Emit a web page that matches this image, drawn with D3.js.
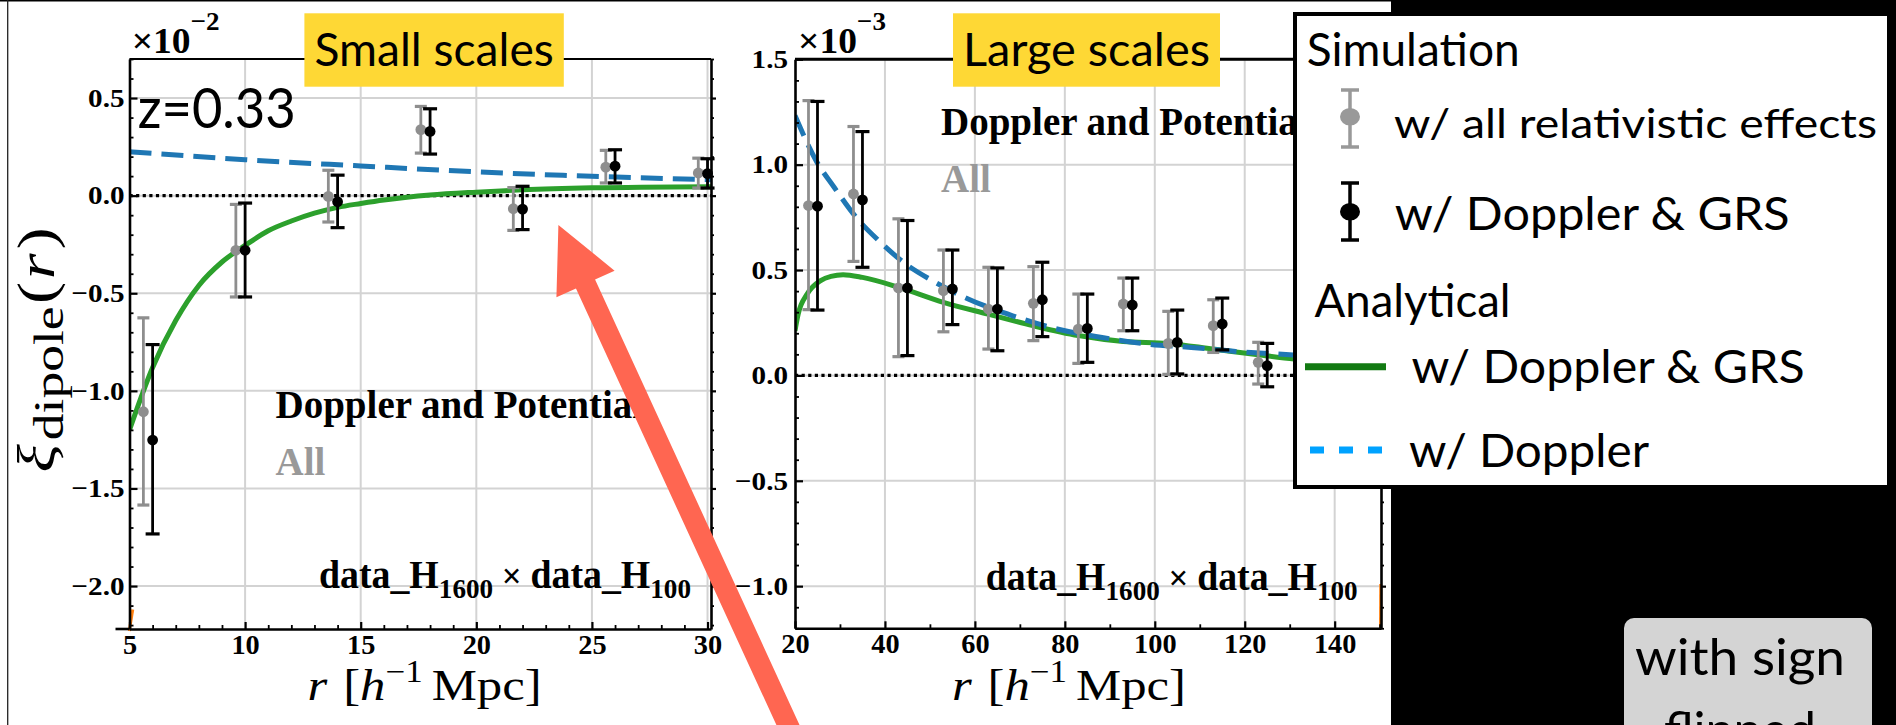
<!DOCTYPE html>
<html>
<head>
<meta charset="utf-8">
<script src="https://cdn.jsdelivr.net/npm/d3@7"></script>
<style>
  html, body { margin: 0; padding: 0; background: #000; overflow: hidden; }
  svg { display: block; }
</style>
</head>
<body>
<svg id="chart" width="1896" height="725"></svg>
<script>
// ---- data (xi values in units of 1e-2 left, 1e-3 right) ----

// small scales panel
const leftXTicks = [5, 10, 15, 20, 25, 30];
const leftYTicks = [0.5, 0.0, -0.5, -1.0, -1.5, -2.0];
const leftGridX = [10, 15, 20, 25, 30];

const leftAllR  = [5.6, 9.6, 13.6, 17.6, 21.6, 25.6, 29.6];
const leftAllY  = [-1.107, -0.280, -0.004, 0.338, -0.067, 0.146, 0.116];
const leftAllLo = [-1.585, -0.519, -0.135, 0.218, -0.178, 0.065, 0.039];
const leftAllHi = [-0.626, -0.045, 0.130, 0.457, 0.041, 0.232, 0.192];

const leftDgR  = [6, 10, 14, 18, 22, 26, 30];
const leftDgY  = [-1.252, -0.280, -0.031, 0.329, -0.069, 0.151, 0.113];
const leftDgLo = [-1.733, -0.519, -0.164, 0.213, -0.174, 0.065, 0.039];
const leftDgHi = [-0.763, -0.038, 0.105, 0.445, 0.048, 0.235, 0.189];

const leftGreenR = [5, 6, 7, 8, 9, 10, 11, 12, 13, 14, 15, 16, 17, 18, 20, 22, 25, 30.15];
const leftGreenY = [-1.2, -0.88, -0.64, -0.46, -0.34, -0.255, -0.18, -0.13, -0.09, -0.06, -0.04, -0.022, -0.008, 0.003, 0.018, 0.03, 0.04, 0.046];

const leftBlueR = [5, 10, 15, 20, 23.75, 25, 30.15];
const leftBlueY = [0.225, 0.184, 0.152, 0.122, 0.104, 0.099, 0.082];

// visible bits of the orange curve (it hides under the green one elsewhere)
const leftOrangeR = [4.99, 5.14];
const leftOrangeY = [-2.23, -2.12];

// large scales panel
const rightXTicks = [20, 40, 60, 80, 100, 120, 140];
const rightYTicks = [1.5, 1.0, 0.5, 0.0, -0.5, -1.0];
const rightGridX = [40, 60, 80, 100, 120, 140];

const rightAllR  = [23, 33, 43, 53, 63, 73, 83, 93, 103, 113, 123];
const rightAllY  = [0.806, 0.861, 0.415, 0.402, 0.315, 0.342, 0.220, 0.339, 0.152, 0.236, 0.062];
const rightAllLo = [0.312, 0.541, 0.089, 0.207, 0.125, 0.165, 0.057, 0.212, 0.005, 0.109, -0.041];
const rightAllHi = [1.304, 1.181, 0.743, 0.595, 0.513, 0.516, 0.386, 0.462, 0.304, 0.359, 0.157];

const rightDgR  = [25, 35, 45, 55, 65, 75, 85, 95, 105, 115, 125];
const rightDgY  = [0.803, 0.833, 0.415, 0.410, 0.315, 0.359, 0.223, 0.334, 0.157, 0.244, 0.046];
const rightDgLo = [0.310, 0.513, 0.094, 0.241, 0.117, 0.184, 0.062, 0.212, 0.007, 0.121, -0.054];
const rightDgHi = [1.300, 1.157, 0.735, 0.595, 0.510, 0.537, 0.386, 0.462, 0.310, 0.367, 0.152];

const rightGreenR = [20, 20.7, 22.7, 25.7, 28, 30.7, 35, 43.1, 53, 62.9, 72.9, 83, 93, 102.9, 113, 123, 131, 150];
const rightGreenY = [0.212, 0.29, 0.386, 0.45, 0.47, 0.478, 0.465, 0.418, 0.347, 0.291, 0.236, 0.189, 0.161, 0.152, 0.125, 0.098, 0.078, 0.062];

const rightBlueR = [20, 24.7, 28.7, 33.6, 38.6, 44.6, 50.5, 58.5, 68.4, 78.3, 88.3, 98.2, 108.1, 118, 130, 150];
const rightBlueY = [1.233, 1.019, 0.893, 0.75, 0.64, 0.529, 0.45, 0.363, 0.283, 0.22, 0.18, 0.149, 0.133, 0.114, 0.098, 0.07];

const rightOrangeR = [150.2, 150.25];
const rightOrangeY = [-1.2, -0.99];

// legend labels
const legendHeads = ['Simulation', 'Analytical'];
const legendLabels = ['w/ all relativistic effects', 'w/ Doppler & GRS', 'w/ Doppler & GRS', 'w/ Doppler'];

// arrow annotation, in small-scale panel data units (tip, tail)
const arrowTip = [23.55, -0.15];
const arrowTail = [34.17, -2.89];

// ---- colours / fonts ----
const GRAY = '#8e8e8e';
const GREEN = '#2ca02c';
const BLUE = '#1f77b4';
const ORANGE = '#ff7f0e';
const SERIF = "'Liberation Serif', 'Times New Roman', serif";
const SANS = "Lato, 'Open Sans', sans-serif";

// widen svg text horizontally by a factor (the figure was stretched on the slide)
function stretch(sel, k) {
  sel.each(function () {
    const w = this.getComputedTextLength();
    d3.select(this).attr('textLength', w * k).attr('lengthAdjust', 'spacingAndGlyphs');
  });
}

const svg = d3.select('#chart');
const defs = svg.append('defs');

// white slide area, black on the right
svg.append('rect').attr('x', 0).attr('y', 0).attr('width', 1391).attr('height', 725).attr('fill', '#fff');
svg.append('line').attr('x1', 0).attr('x2', 1391).attr('y1', 0.7).attr('y2', 0.7).attr('stroke', '#000').attr('stroke-width', 1.5);
svg.append('line').attr('x1', 7.7).attr('x2', 7.7).attr('y1', 0).attr('y2', 725).attr('stroke', '#222').attr('stroke-width', 1.3);

function drawPanel(p) {
  const x = d3.scaleLinear().domain(p.xDomain).range(p.xRange);
  const y = d3.scaleLinear().domain(p.yDomain).range(p.yRange);
  const g = svg.append('g');

  defs.append('clipPath').attr('id', 'clip-' + p.id).append('rect')
    .attr('x', p.xRange[0]).attr('y', p.yRange[1])
    .attr('width', p.xRange[1] - p.xRange[0]).attr('height', p.yRange[0] - p.yRange[1]);

  // grid
  g.append('g').selectAll('line').data(p.gridX).join('line')
    .attr('x1', d => x(d)).attr('x2', d => x(d))
    .attr('y1', p.yRange[0]).attr('y2', p.yRange[1])
    .attr('stroke', '#d3d3d3').attr('stroke-width', 2);
  g.append('g').selectAll('line').data(p.yTicks).join('line')
    .attr('x1', p.xRange[0]).attr('x2', p.xRange[1])
    .attr('y1', d => y(d)).attr('y2', d => y(d))
    .attr('stroke', '#d3d3d3').attr('stroke-width', 2);

  // zero line, dotted
  g.append('line')
    .attr('x1', x(p.xDomain[0])).attr('x2', x(p.xDomain[1]))
    .attr('y1', y(0)).attr('y2', y(0))
    .attr('stroke', '#000').attr('stroke-width', 3.2).attr('stroke-dasharray', '3.2,3.4');

  const plot = g.append('g').attr('clip-path', `url(#clip-${p.id})`);
  const line = d3.line().x(d => x(d[0])).y(d => y(d[1])).curve(d3.curveMonotoneX);

  g.append('path').datum(d3.zip(p.orangeR, p.orangeY))
    .attr('d', d3.line().x(d => x(d[0])).y(d => y(d[1])))
    .attr('fill', 'none').attr('stroke', ORANGE).attr('stroke-width', 3);
  plot.append('path').datum(d3.zip(p.greenR, p.greenY))
    .attr('d', line).attr('fill', 'none').attr('stroke', GREEN).attr('stroke-width', 5);
  plot.append('path').datum(d3.zip(p.blueR, p.blueY))
    .attr('d', line).attr('fill', 'none').attr('stroke', BLUE).attr('stroke-width', 5)
    .attr('stroke-dasharray', '22,10');

  // error bars: gray first, black on top
  function errorBars(rs, ys, los, his, color, capW) {
    const data = rs.map((r, i) => ({ r, v: ys[i], lo: los[i], hi: his[i] }));
    const eg = g.append('g');
    eg.selectAll('.bar').data(data).join('line')
      .attr('x1', d => x(d.r)).attr('x2', d => x(d.r))
      .attr('y1', d => y(d.lo)).attr('y2', d => y(d.hi))
      .attr('stroke', color).attr('stroke-width', 2.8);
    eg.selectAll('.capLo').data(data).join('line')
      .attr('x1', d => x(d.r) - capW / 2).attr('x2', d => x(d.r) + capW / 2)
      .attr('y1', d => y(d.lo)).attr('y2', d => y(d.lo))
      .attr('stroke', color).attr('stroke-width', 3.2);
    eg.selectAll('.capHi').data(data).join('line')
      .attr('x1', d => x(d.r) - capW / 2).attr('x2', d => x(d.r) + capW / 2)
      .attr('y1', d => y(d.hi)).attr('y2', d => y(d.hi))
      .attr('stroke', color).attr('stroke-width', 3.2);
    eg.selectAll('circle').data(data).join('circle')
      .attr('cx', d => x(d.r)).attr('cy', d => y(d.v)).attr('r', 5.4)
      .attr('fill', color);
  }
  errorBars(p.allR, p.allY, p.allLo, p.allHi, GRAY, 12);
  errorBars(p.dgR, p.dgY, p.dgLo, p.dgHi, '#000', 14);

  // axes
  const fmtY = d3.format('.1f');
  const styleAxis = (sel, size) => sel
    .attr('font-family', SERIF).attr('font-weight', 'bold').attr('font-size', size)
    .call(s => s.selectAll('text').attr('fill', '#000'))
    .call(s => s.selectAll('line').attr('stroke', '#000').attr('stroke-width', 2.2))
    .call(s => s.select('.domain').attr('stroke', '#000').attr('stroke-width', 2.6));

  const bottom = g.append('g').attr('transform', `translate(0,${p.yRange[0]})`)
    .call(d3.axisBottom(x).tickValues(p.xTicks).tickSize(-7).tickSizeOuter(0).tickPadding(6).tickFormat(d3.format('d')))
    .call(styleAxis, 27);
  bottom.selectAll('text').call(stretch, 1.05);
  g.append('line').attr('x1', p.xRange[0] - p.axisExt).attr('x2', p.xRange[0])
    .attr('y1', p.yRange[0]).attr('y2', p.yRange[0]).attr('stroke', '#000').attr('stroke-width', 2.6);
  g.append('g').attr('transform', `translate(0,${p.yRange[0]})`)
    .call(d3.axisBottom(x).tickValues(p.xMinor).tickSize(-4).tickFormat(''))
    .call(s => s.select('.domain').remove())
    .call(s => s.selectAll('line').attr('stroke', '#000').attr('stroke-width', 1.8));

  const left = g.append('g').attr('transform', `translate(${p.xRange[0]},0)`)
    .call(d3.axisLeft(y).tickValues(p.yTicks).tickSize(-8).tickSizeOuter(0).tickPadding(p.yPad).tickFormat(fmtY))
    .call(styleAxis, 26);
  left.selectAll('text').call(stretch, 1.12);
  g.append('g').attr('transform', `translate(${p.xRange[0]},0)`)
    .call(d3.axisLeft(y).tickValues(p.yMinor).tickSize(-4).tickFormat(''))
    .call(s => s.select('.domain').remove())
    .call(s => s.selectAll('line').attr('stroke', '#000').attr('stroke-width', 1.8));

  g.append('g').attr('transform', `translate(${p.xRange[1]},0)`)
    .call(d3.axisRight(y).tickValues(p.yTicks).tickSize(5).tickSizeOuter(0).tickFormat(''))
    .call(styleAxis, 24);
  g.append('g').attr('transform', `translate(${p.xRange[1]},0)`)
    .call(d3.axisRight(y).tickValues(p.yMinor).tickSize(3).tickFormat(''))
    .call(s => s.select('.domain').remove())
    .call(s => s.selectAll('line').attr('stroke', '#000').attr('stroke-width', 1.8));

  // top frame
  g.append('line').attr('x1', p.xRange[0]).attr('x2', p.xRange[1])
    .attr('y1', p.yRange[1]).attr('y2', p.yRange[1])
    .attr('stroke', '#000').attr('stroke-width', p.topW);

  // x10^n multiplier
  const mul = g.append('text').attr('x', p.mulX).attr('y', 53)
    .attr('font-family', SERIF).attr('font-weight', 'bold').attr('font-size', 36).attr('fill', '#000');
  mul.append('tspan').text('×10');
  mul.append('tspan').attr('dy', -23).attr('font-size', 26).text(p.mulExp);
  mul.attr('textLength', 88).attr('lengthAdjust', 'spacingAndGlyphs');

  // annotations
  g.append('text').attr('x', p.annX).attr('y', p.dopY)
    .attr('font-family', SERIF).attr('font-weight', 'bold').attr('font-size', 39)
    .attr('fill', '#000').text('Doppler and Potential');
  g.append('text').attr('x', p.annX).attr('y', p.allTextY)
    .attr('font-family', SERIF).attr('font-weight', 'bold').attr('font-size', 39)
    .attr('fill', '#999').text('All');

  const dt = g.append('text').attr('x', p.dataX).attr('y', p.dataY)
    .attr('font-family', SERIF).attr('font-weight', 'bold').attr('font-size', 39).attr('fill', '#000')
    .attr('textLength', 372).attr('lengthAdjust', 'spacingAndGlyphs');
  dt.append('tspan').text('data_H');
  dt.append('tspan').attr('dy', 10).attr('font-size', 28).text('1600');
  dt.append('tspan').attr('dy', -10).attr('font-size', 36).text(' × ');
  dt.append('tspan').text('data_H');
  dt.append('tspan').attr('dy', 10).attr('font-size', 28).text('100');

  // x title
  const xt = g.append('text').attr('x', p.xTitleX).attr('y', 700)
    .attr('font-family', SERIF).attr('font-size', 45).attr('fill', '#000')
    .attr('textLength', 234).attr('lengthAdjust', 'spacingAndGlyphs');
  xt.append('tspan').attr('font-style', 'italic').text('r');
  xt.append('tspan').attr('dx', 14).text('[');
  xt.append('tspan').attr('font-style', 'italic').text('h');
  xt.append('tspan').attr('dy', -18).attr('font-size', 31).text('−1');
  xt.append('tspan').attr('dy', 18).attr('dx', 8).text('Mpc]');

  // title box
  g.append('rect').attr('x', p.boxX).attr('y', 13.3).attr('width', p.boxW).attr('height', 73.4)
    .attr('fill', '#fed835');
  g.append('text').attr('x', p.boxX + 10).attr('y', 65.7)
    .attr('font-family', SANS).attr('font-size', 47).attr('fill', '#000')
    .attr('textLength', p.boxW - 20).attr('lengthAdjust', 'spacingAndGlyphs')
    .text(p.title);

  return { x, y };
}

const L = drawPanel({
  id: 'left', title: 'Small scales',
  xDomain: [5, 30.15], xRange: [129.5, 711], yDomain: [-2.22, 0.7], yRange: [629, 59],
  xTicks: leftXTicks, xMinor: d3.range(6, 30).filter(v => v % 5 !== 0),
  yTicks: leftYTicks, yMinor: d3.range(-22, 8).filter(v => v % 5 !== 0).map(v => v / 10),
  gridX: leftGridX, yPad: 5, topW: 2, axisExt: 14,
  allR: leftAllR, allY: leftAllY, allLo: leftAllLo, allHi: leftAllHi,
  dgR: leftDgR, dgY: leftDgY, dgLo: leftDgLo, dgHi: leftDgHi,
  greenR: leftGreenR, greenY: leftGreenY, blueR: leftBlueR, blueY: leftBlueY,
  orangeR: leftOrangeR, orangeY: leftOrangeY,
  mulX: 131.7, mulExp: '−2',
  annX: 275.5, dopY: 418, allTextY: 475, dataX: 319, dataY: 588,
  xTitleX: 307.6, boxX: 304.4, boxW: 259.4
});

drawPanel({
  id: 'right', title: 'Large scales',
  xDomain: [20, 150.3], xRange: [795, 1381], yDomain: [-1.2, 1.5], yRange: [628.3, 59.3],
  xTicks: rightXTicks, xMinor: [30, 50, 70, 90, 110, 130, 150],
  yTicks: rightYTicks, yMinor: d3.range(-12, 15).filter(v => v % 5 !== 0).map(v => v / 10),
  gridX: rightGridX, yPad: 7, topW: 3, axisExt: 0,
  allR: rightAllR, allY: rightAllY, allLo: rightAllLo, allHi: rightAllHi,
  dgR: rightDgR, dgY: rightDgY, dgLo: rightDgLo, dgHi: rightDgHi,
  greenR: rightGreenR, greenY: rightGreenY, blueR: rightBlueR, blueY: rightBlueY,
  orangeR: rightOrangeR, orangeY: rightOrangeY,
  mulX: 798, mulExp: '−3',
  annX: 941, dopY: 135, allTextY: 192, dataX: 985.7, dataY: 590,
  xTitleX: 952, boxX: 953, boxW: 267
});

// y title (left panel)
const yt = svg.append('text')
  .attr('transform', 'translate(54,350) rotate(-90)')
  .attr('text-anchor', 'middle')
  .attr('font-family', SERIF).attr('font-size', 52).attr('fill', '#000')
  .attr('textLength', 245).attr('lengthAdjust', 'spacingAndGlyphs');
yt.append('tspan').attr('font-style', 'italic').text('ξ');
yt.append('tspan').attr('dy', 9).attr('dx', 3).attr('font-size', 42).text('dipole');
yt.append('tspan').attr('dy', -9).attr('dx', 2).text('(');
yt.append('tspan').attr('font-style', 'italic').attr('dx', 2).text('r');
yt.append('tspan').attr('dx', 3).text(')');

// z label
svg.append('text').attr('x', 137.7).attr('y', 128)
  .attr('font-family', SANS).attr('font-size', 57).attr('fill', '#000')
  .attr('textLength', 158).attr('lengthAdjust', 'spacingAndGlyphs')
  .text('z=0.33');

// red arrow
(function () {
  const tip = [L.x(arrowTip[0]), L.y(arrowTip[1])];
  const tail = [L.x(arrowTail[0]), L.y(arrowTail[1])];
  const len = Math.hypot(tip[0] - tail[0], tip[1] - tail[1]);
  const ux = (tip[0] - tail[0]) / len, uy = (tip[1] - tail[1]) / len;
  const nx = -uy, ny = ux;
  const headL = 65, headW = 32, shaftW = 10.5;
  const bx = tip[0] - ux * headL, by = tip[1] - uy * headL;
  const pts = [
    [tail[0] + nx * shaftW, tail[1] + ny * shaftW],
    [bx + nx * shaftW, by + ny * shaftW],
    [bx + nx * headW, by + ny * headW],
    tip,
    [bx - nx * headW, by - ny * headW],
    [bx - nx * shaftW, by - ny * shaftW],
    [tail[0] - nx * shaftW, tail[1] - ny * shaftW]
  ];
  svg.append('path').attr('d', d3.line()(pts) + 'Z').attr('fill', '#ff6651');
})();

// legend
const lg = svg.append('g');
lg.append('rect').attr('x', 1295).attr('y', 14).attr('width', 594).attr('height', 473)
  .attr('fill', '#fff').attr('stroke', '#000').attr('stroke-width', 4);
const legendText = (t, x, y, size, len) => lg.append('text').attr('x', x).attr('y', y)
  .attr('font-family', SANS).attr('font-size', size).attr('fill', '#000')
  .attr('textLength', len).attr('lengthAdjust', 'spacingAndGlyphs').text(t);
legendText(legendHeads[0], 1306.7, 65.7, 46, 213);
legendText(legendLabels[0], 1394, 138, 40, 483);
legendText(legendLabels[1], 1394.7, 230, 46, 395);
legendText(legendHeads[1], 1314.6, 316.7, 46, 196);
legendText(legendLabels[2], 1411.6, 383.3, 46, 393);
legendText(legendLabels[3], 1409, 466.7, 46, 240);

function legendErr(cx, top, bot, cy, color) {
  lg.append('line').attr('x1', cx).attr('x2', cx).attr('y1', top).attr('y2', bot).attr('stroke', color).attr('stroke-width', 3.5);
  [top, bot].forEach(v => lg.append('line').attr('x1', cx - 9).attr('x2', cx + 9).attr('y1', v).attr('y2', v).attr('stroke', color).attr('stroke-width', 3.5));
  lg.append('ellipse').attr('cx', cx).attr('cy', cy).attr('rx', 10).attr('ry', 8.8).attr('fill', color);
}
legendErr(1350, 90, 147, 116.7, '#999');
legendErr(1350, 183, 240, 211.7, '#000');
lg.append('line').attr('x1', 1305).attr('x2', 1386).attr('y1', 366.7).attr('y2', 366.7)
  .attr('stroke', '#127a12').attr('stroke-width', 7);
lg.append('line').attr('x1', 1310).attr('x2', 1384).attr('y1', 450).attr('y2', 450)
  .attr('stroke', '#00a2ff').attr('stroke-width', 7).attr('stroke-dasharray', '14,15');

// "with sign flipped" note
svg.append('rect').attr('x', 1624).attr('y', 618).attr('width', 248).attr('height', 140).attr('rx', 10)
  .attr('fill', '#d4d4d4');
svg.append('text').attr('x', 1740).attr('y', 675).attr('text-anchor', 'middle')
  .attr('font-family', SANS).attr('font-size', 50).attr('fill', '#000')
  .attr('textLength', 210).attr('lengthAdjust', 'spacingAndGlyphs').text('with sign');
svg.append('text').attr('x', 1740).attr('y', 748).attr('text-anchor', 'middle')
  .attr('font-family', SANS).attr('font-size', 50).attr('fill', '#000').text('flipped');
</script>
</body>
</html>
